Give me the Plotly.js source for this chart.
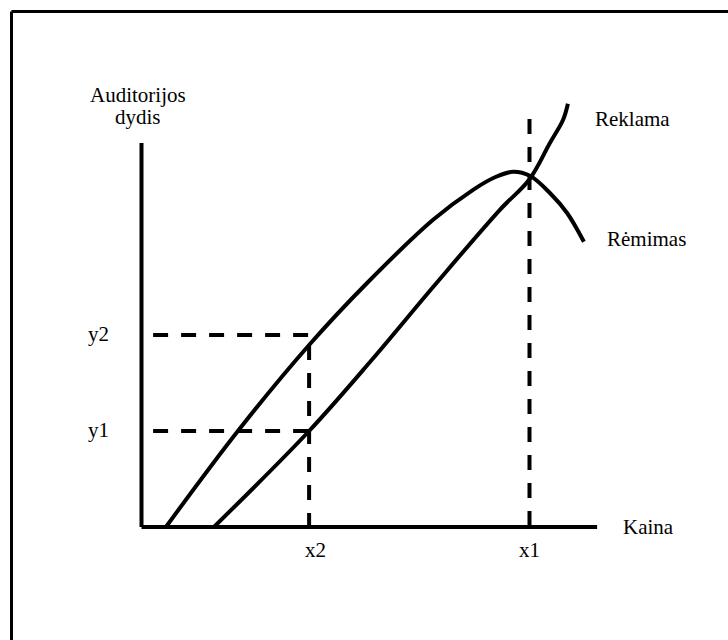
<!DOCTYPE html>
<html>
<head>
<meta charset="utf-8">
<script src="https://cdn.plot.ly/plotly-3.0.1.min.js"></script>
<style>
  html, body { margin: 0; padding: 0; background: #fff; }
  #chart { width: 728px; height: 640px; }
</style>
</head>
<body>
<div id="chart"></div>
<script>
// ---- data (abstract units, origin at the axes corner) ----
const remimasX = [0.61, 2.41, 4.19, 5.64, 7.29, 8.29, 8.85, 9.29, 9.71, 10.21, 10.64, 11.06];
const remimasY = [0.00, 2.40, 4.55, 6.10, 7.68, 8.43, 8.75, 8.88, 8.78, 8.35, 7.85, 7.13];
const reklamaX = [1.81, 4.19, 5.76, 7.29, 8.96, 9.69, 10.21, 10.54, 10.66];
const reklamaY = [0.00, 2.40, 4.18, 6.00, 7.93, 8.68, 9.60, 10.18, 10.58];
const xAxisEnd = 11.39;
const yAxisEnd = 9.60;
const xTickVals = [4.19, 9.70];
const xTickText = ['x2', 'x1'];
const yTickVals = [2.40, 4.80];
const yTickText = ['y1', 'y2'];
const x1Top = 10.20;          // top of the x1 guide line
const x2Top = 4.55;           // x2 guide line meets the Rėmimas curve
const hDashStart = 0.29;      // horizontal guides start just right of the y axis
const yAxisTitle = ['Auditorijos', 'dydis'];
const xAxisTitle = 'Kaina';
const seriesNames = ['Reklama', 'Rėmimas'];

// ---- styling ----
const FONT = {family: 'Liberation Serif, Times New Roman, serif', size: 21, color: '#000'};
const solid = {color: '#000', width: 4};
const dashed = {color: '#000', width: 4, dash: '15px,13px'};

const traces = [];
// axes
traces.push({x: [0, xAxisEnd], y: [0, 0], mode: 'lines', line: solid, hoverinfo: 'skip'});
traces.push({x: [0, 0], y: [0, yAxisEnd], mode: 'lines', line: solid, hoverinfo: 'skip'});
// guide lines
traces.push({x: [xTickVals[1], xTickVals[1]], y: [x1Top, 0], mode: 'lines', line: dashed, hoverinfo: 'skip'});
traces.push({x: [xTickVals[0], xTickVals[0]], y: [x2Top, 0], mode: 'lines', line: dashed, hoverinfo: 'skip'});
yTickVals.forEach(v => {
  traces.push({x: [hDashStart, xTickVals[0]], y: [v, v], mode: 'lines', line: dashed, hoverinfo: 'skip'});
});
// curves
traces.push({x: remimasX, y: remimasY, mode: 'lines', line: {color: '#000', width: 4, shape: 'spline', smoothing: 1}, name: seriesNames[1]});
traces.push({x: reklamaX, y: reklamaY, mode: 'lines', line: {color: '#000', width: 4, shape: 'spline', smoothing: 1}, name: seriesNames[0]});

// unit -> pixel: 40px per unit, origin at (141.5, 527)
const S = 40, OX = 141.5, OY = 527;
const ux = px => (px - OX) / S;
const vy = py => (OY - py) / S;

const ann = (x, y, text) => ({x, y, text, xref: 'x', yref: 'y', showarrow: false,
  xanchor: 'center', yanchor: 'middle', font: FONT});

const annotations = [
  ann(ux(138), vy(95), yAxisTitle[0]),
  ann(ux(138), vy(117), yAxisTitle[1]),
  ann(ux(632), vy(119), seriesNames[0]),
  ann(ux(646), vy(239), seriesNames[1]),
  ann(ux(648), vy(527), xAxisTitle),
];
xTickVals.forEach((v, i) => {
  const a = ann(v, vy(550), xTickText[i]);
  if (i === 0) a.xshift = 6;
  annotations.push(a);
});
yTickVals.forEach((v, i) => {
  annotations.push(Object.assign(ann(ux(98.5), v, yTickText[i]), {yshift: 1}));
});

const bx = 11.5 / 728, by = 1 - 11.5 / 640;
const layout = {
  width: 728, height: 640,
  margin: {l: 0, r: 0, t: 0, b: 0},
  paper_bgcolor: '#fff', plot_bgcolor: '#fff',
  showlegend: false,
  xaxis: {range: [ux(0), ux(728)], visible: false, fixedrange: true},
  yaxis: {range: [vy(640), vy(0)], visible: false, fixedrange: true},
  annotations,
  shapes: [
    {type: 'line', xref: 'paper', yref: 'paper', x0: bx, x1: 1, y0: by, y1: by, line: {color: '#000', width: 3}},
    {type: 'line', xref: 'paper', yref: 'paper', x0: bx, x1: bx, y0: 0, y1: by, line: {color: '#000', width: 3}}
  ]
};

Plotly.newPlot('chart', traces, layout, {staticPlot: true, displayModeBar: false});
</script>
</body>
</html>
